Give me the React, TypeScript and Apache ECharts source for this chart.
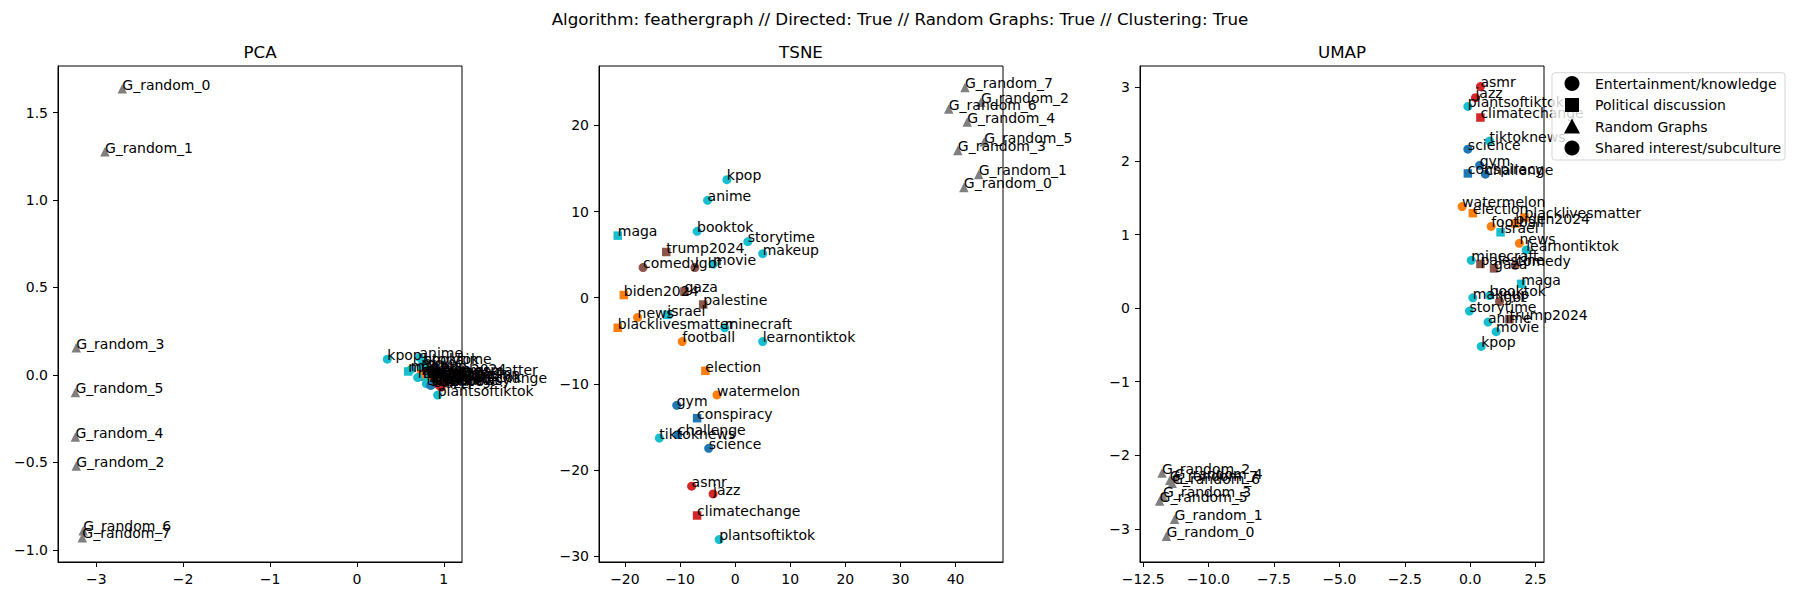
import React, { useEffect, useRef } from "react";
import * as echarts from "echarts";

const FONT = "DejaVu Sans";

const suptitle = "Algorithm: feathergraph // Directed: True // Random Graphs: True // Clustering: True";
const panelTitles = ["PCA", "TSNE", "UMAP"];

const palette: Record<string, string> = {
  cyan: "#17becf",
  brown: "#8c564b",
  orange: "#ff7f0e",
  blue: "#1f77b4",
  red: "#d62728",
  gray: "#7f7f7f",
};

// 0 Entertainment/knowledge, 1 Political discussion, 2 Random Graphs, 3 Shared interest/subculture
const groupNames = ["Entertainment/knowledge", "Political discussion", "Random Graphs", "Shared interest/subculture"];
const groupSymbols = ["circle", "rect", "triangle", "circle"];

const nodeNames = [
  "kpop", "anime", "booktok", "storytime", "makeup", "movie", "maga", "trump2024", "comedy", "lgbt",
  "gaza", "biden2024", "palestine", "news", "israel", "blacklivesmatter", "minecraft", "football", "learnontiktok", "election",
  "watermelon", "gym", "conspiracy", "challenge", "tiktoknews", "science", "asmr", "jazz", "climatechange", "plantsoftiktok",
  "G_random_0", "G_random_1", "G_random_2", "G_random_3", "G_random_4", "G_random_5", "G_random_6", "G_random_7",
];
const nodeGroup = [
  3, 3, 3, 0, 3, 0, 1, 1, 0, 3,
  1, 1, 1, 0, 1, 1, 3, 3, 0, 1,
  3, 3, 1, 0, 0, 0, 3, 3, 1, 3,
  2, 2, 2, 2, 2, 2, 2, 2,
];
const nodeColor = [
  "cyan", "cyan", "cyan", "cyan", "cyan", "cyan", "cyan", "brown", "brown", "brown",
  "brown", "orange", "brown", "orange", "cyan", "orange", "cyan", "orange", "cyan", "orange",
  "orange", "blue", "blue", "blue", "cyan", "blue", "red", "red", "red", "cyan",
  "gray", "gray", "gray", "gray", "gray", "gray", "gray", "gray",
];

const pcaX = [
  0.35, 0.72, 0.76, 0.78, 0.62, 0.74, 0.59, 0.76, 0.79, 0.82,
  0.84, 0.86, 0.85, 0.88, 0.8, 0.74, 0.7, 0.9, 0.83, 0.87,
  0.92, 0.88, 0.9, 0.86, 0.8, 0.85, 0.95, 0.97, 1.0, 0.93,
  -2.7, -2.9, -3.23, -3.23, -3.24, -3.24, -3.15, -3.16,
];
const pcaY = [
  0.09, 0.1, 0.07, 0.065, 0.03, 0.045, 0.02, -0.01, 0.005, 0.02,
  -0.005, 0.01, -0.02, 0.0, -0.01, 0.005, -0.015, -0.01, -0.035, -0.03,
  -0.02, -0.045, -0.05, -0.055, -0.05, -0.06, -0.06, -0.07, -0.04, -0.115,
  1.636, 1.276, -0.52, 0.155, -0.355, -0.1, -0.89, -0.93,
];

const tsneX = [
  -1.5, -5, -6.9, 2.3, 5, -4, -21.3, -12.5, -16.7, -7.3,
  -9.2, -20.2, -5.8, -17.7, -12.3, -21.3, -1.9, -9.6, 5, -5.4,
  -3.3, -10.6, -6.9, -10.4, -13.75, -4.8, -7.9, -4, -6.9, -2.9,
  41.5, 44.2, 44.6, 40.4, 42.1, 45.2, 38.75, 41.7,
];
const tsneY = [
  13.7, 11.3, 7.7, 6.5, 5.1, 3.9, 7.2, 5.3, 3.5, 3.5,
  0.7, 0.3, -0.8, -2.3, -2, -3.5, -3.5, -5.1, -5.1, -8.5,
  -11.3, -12.5, -14, -15.9, -16.3, -17.5, -21.9, -22.8, -25.3, -28.1,
  12.8, 14.3, 22.7, 17.1, 20.4, 18.1, 21.9, 24.4,
];

const umapX = [
  0.42, 0.68, 0.74, -0.03, 0.1, 0.99, 1.95, 1.5, 1.72, 1.12,
  0.91, 1.72, 0.39, 1.88, 1.16, 2.07, 0.04, 0.8, 2.14, 0.1,
  -0.31, 0.36, -0.09, 0.58, 0.74, -0.09, 0.39, 0.2, 0.39, -0.09,
  -11.61, -11.3, -11.78, -11.74, -11.3, -11.87, -11.39, -11.48,
];
const umapY = [
  -0.52, -0.19, 0.17, -0.04, 0.14, -0.32, 0.33, -0.15, 0.58, 0.09,
  0.54, 1.15, 0.6, 0.88, 1.03, 1.23, 0.65, 1.11, 0.79, 1.29,
  1.38, 1.94, 1.83, 1.82, 2.27, 2.16, 3.01, 2.86, 2.59, 2.74,
  -3.1, -2.87, -2.24, -2.56, -2.31, -2.62, -2.38, -2.34,
];

const pcaXTicks = [-3, -2, -1, 0, 1];
const pcaYTicks = [-1, -0.5, 0, 0.5, 1, 1.5];
const tsneXTicks = [-20, -10, 0, 10, 20, 30, 40];
const tsneYTicks = [-30, -20, -10, 0, 10, 20];
const umapXTicks = [-12.5, -10, -7.5, -5, -2.5, 0, 2.5];
const umapYTicks = [-3, -2, -1, 0, 1, 2, 3];

const fmt = (dec: number) => (v: number) => {
  const n = Number(v);
  const s = Math.abs(n).toFixed(dec);
  return (n < 0 && Number(s) !== 0 ? "\u2212" : "") + s;
};

function makeAxis(kind: "x" | "y", i: number, min: number, max: number, ticks: number[], dec: number) {
  return {
    type: "value",
    gridIndex: i,
    min,
    max,
    position: kind === "x" ? "bottom" : "left",
    axisLine: { show: true, onZero: false, lineStyle: { color: "#000", width: 1 } },
    axisTick: { show: true, customValues: ticks, length: 5, inside: false, lineStyle: { color: "#000", width: 1 } },
    axisLabel: {
      show: true,
      customValues: ticks,
      formatter: fmt(dec),
      margin: 10,
      color: "#000",
      fontSize: 14,
      fontFamily: FONT,
    },
    splitLine: { show: false },
  };
}

const gridLefts = [58, 599, 1140];
const GRID_TOP = 66;
const GRID_W = 404;
const GRID_H = 496;

function symbolSizeFor(sym: string) {
  if (sym === "rect") return 8.5;
  if (sym === "triangle") return 9.5;
  return 9;
}

function panelSeries(i: number, xs: number[], ys: number[]) {
  const markers = nodeNames.map((_, k) => {
    const sym = groupSymbols[nodeGroup[k]];
    return {
      value: [xs[k], ys[k]],
      symbol: sym,
      symbolSize: symbolSizeFor(sym),
      itemStyle: { color: palette[nodeColor[k]], opacity: 1 },
    };
  });
  const labels = nodeNames.map((name, k) => ({ name, value: [xs[k], ys[k]] }));
  return [
    {
      type: "scatter",
      xAxisIndex: i,
      yAxisIndex: i,
      z: 2,
      silent: true,
      itemStyle: { opacity: 1 },
      data: markers,
    },
    {
      type: "scatter",
      xAxisIndex: i,
      yAxisIndex: i,
      z: 3,
      silent: true,
      symbol: "circle",
      symbolSize: 1,
      itemStyle: { color: "rgba(0,0,0,0)", opacity: 1 },
      label: {
        show: true,
        formatter: "{b}",
        position: [0.5, 3.3],
        align: "left",
        verticalAlign: "bottom",
        color: "#000",
        opacity: 1,
        fontSize: 14,
        fontFamily: FONT,
      },
      labelLayout: { hideOverlap: false },
      data: labels,
    },
  ];
}

function legendGraphic() {
  const boxX = 1552;
  const boxY = 72.7;
  const rowY = [83.5, 105, 126.5, 148];
  const mx = 1572;
  const tx = 1595;
  const children: any[] = [
    {
      type: "rect",
      shape: { x: boxX, y: boxY, width: 233, height: 87.3, r: 3 },
      style: { fill: "rgba(255,255,255,0.8)", stroke: "rgba(204,204,204,0.8)", lineWidth: 1 },
      z: 100,
    },
  ];
  groupNames.forEach((name, g) => {
    const cy = rowY[g];
    const sym = groupSymbols[g];
    if (sym === "circle") {
      children.push({ type: "circle", shape: { cx: mx, cy, r: 7.5 }, style: { fill: "#000" }, z: 101 });
    } else if (sym === "rect") {
      children.push({ type: "rect", shape: { x: mx - 7, y: cy - 7, width: 14, height: 14 }, style: { fill: "#000" }, z: 101 });
    } else {
      children.push({
        type: "polygon",
        shape: { points: [[mx, cy - 8], [mx - 8, cy + 7], [mx + 8, cy + 7]] },
        style: { fill: "#000" },
        z: 101,
      });
    }
    children.push({
      type: "text",
      x: tx,
      y: cy,
      style: { text: name, fill: "#000", font: `14px "${FONT}"`, textAlign: "left", textVerticalAlign: "middle" },
      z: 101,
    });
  });
  return children;
}

function titleGraphic() {
  const items: any[] = [
    {
      type: "text",
      x: 900,
      y: 18.5,
      style: { text: suptitle, fill: "#000", font: `16.7px "${FONT}"`, textAlign: "center", textVerticalAlign: "middle" },
    },
  ];
  panelTitles.forEach((t, i) => {
    items.push({
      type: "text",
      x: gridLefts[i] + GRID_W / 2,
      y: 52,
      style: { text: t, fill: "#000", font: `16.7px "${FONT}"`, textAlign: "center", textVerticalAlign: "middle" },
    });
  });
  return items;
}

export default function App() {
  const ref = useRef<HTMLDivElement>(null);
  useEffect(() => {
    document.body.style.margin = "0";
    if (!ref.current) return;
    const chart = echarts.init(ref.current, undefined, { renderer: "svg" });
    const option: any = {
      animation: false,
      backgroundColor: "#fff",
      textStyle: { fontFamily: FONT },
      grid: gridLefts.map((left) => ({
        left,
        top: GRID_TOP,
        width: GRID_W,
        height: GRID_H,
        show: true,
        borderColor: "#000",
        borderWidth: 1,
        backgroundColor: "transparent",
      })),
      xAxis: [
        makeAxis("x", 0, -3.44, 1.21, pcaXTicks, 0),
        makeAxis("x", 1, -24.7, 48.6, tsneXTicks, 0),
        makeAxis("x", 2, -12.62, 2.82, umapXTicks, 1),
      ],
      yAxis: [
        makeAxis("y", 0, -1.069, 1.766, pcaYTicks, 1),
        makeAxis("y", 1, -30.7, 26.9, tsneYTicks, 0),
        makeAxis("y", 2, -3.45, 3.29, umapYTicks, 0),
      ],
      series: [
        ...panelSeries(0, pcaX, pcaY),
        ...panelSeries(1, tsneX, tsneY),
        ...panelSeries(2, umapX, umapY),
      ],
      graphic: [...titleGraphic(), ...legendGraphic()],
    };
    chart.setOption(option);
    return () => chart.dispose();
  }, []);
  return <div ref={ref} style={{ width: 1800, height: 600 }} />;
}
